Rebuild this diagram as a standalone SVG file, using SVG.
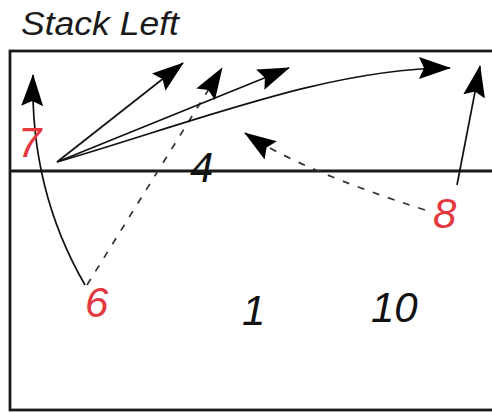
<svg xmlns="http://www.w3.org/2000/svg" width="492" height="412" viewBox="0 0 492 412">
<style>
.frame{fill:none;stroke:#1a1a1a;stroke-width:2.8}
.arr{fill:none;stroke:#111;stroke-width:1.7;marker-end:url(#head)}
.dash{stroke-dasharray:7 9;stroke:#333}
.num{font-family:"Liberation Sans",Arial,sans-serif;font-style:italic;font-size:42px;fill:#111}
.red{fill:#e5383f}
.title{font-family:"Liberation Sans",Arial,sans-serif;font-style:italic;font-size:33px;fill:#1a1a1a}
</style>
<defs>
<marker id="head" markerUnits="userSpaceOnUse" viewBox="0 0 32 22" refX="31" refY="11" markerWidth="32" markerHeight="22" orient="auto">
<path d="M0,0 L32,11 L0,22 L5,11 z" fill="#000"/>
</marker>
</defs>
<g id="title"><text class="title" x="21" y="35" textLength="158" lengthAdjust="spacingAndGlyphs">Stack Left</text></g>
<g id="field">
<rect class="frame" x="10" y="51" width="500" height="359"/>
<line class="frame" x1="10" y1="171" x2="492" y2="171"/>
</g>
<g id="connectors">
<path class="arr" d="M85,285 Q30,190 33,75"/>
<path class="arr" d="M57,162 L183,63"/>
<path class="arr dash" d="M87,285 L222,68"/>
<path class="arr" d="M57,162 L289,68"/>
<path class="arr" d="M57,162 C200,120 330,68 450,68"/>
<path class="arr dash" d="M425,210 Q300,170 245,133"/>
<path class="arr" d="M457,185 L480,66"/>
</g>
<g id="n7"><text class="num red" x="18" y="157">7</text></g>
<g id="n4"><text class="num" x="190" y="182">4</text></g>
<g id="n6"><text class="num red" x="85" y="317">6</text></g>
<g id="n8"><text class="num red" x="433" y="228">8</text></g>
<g id="n1"><text class="num" x="242" y="325">1</text></g>
<g id="n10"><text class="num" x="371" y="322">10</text></g>
</svg>
